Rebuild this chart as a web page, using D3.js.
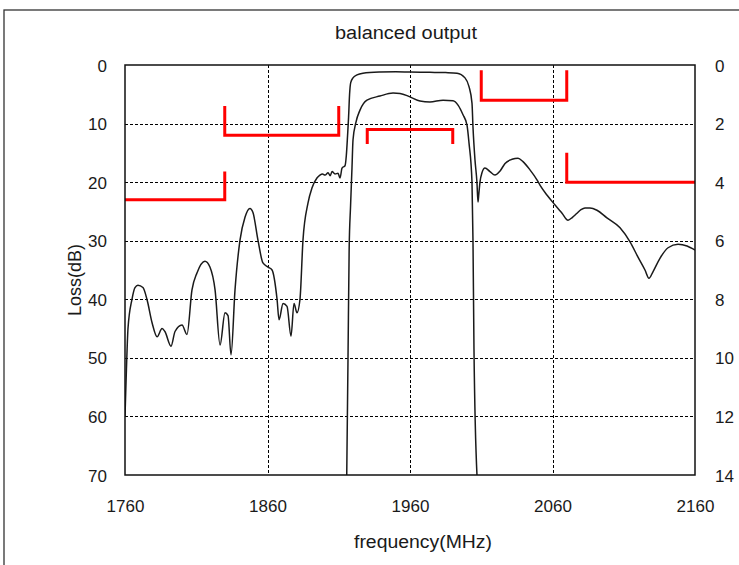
<!DOCTYPE html>
<html>
<head>
<meta charset="utf-8">
<script src="https://cdn.jsdelivr.net/npm/d3@7"></script>
<style>
  html, body { margin: 0; padding: 0; background: #fff; }
  svg { display: block; }
  text { font-family: "Liberation Sans", Arial, sans-serif; fill: #1a1a1a; }
</style>
</head>
<body>
<svg id="chart" width="739" height="565"></svg>
<script>
// ---------------- data ----------------
const title = "balanced output";
const xLabel = "frequency(MHz)";
const yLabel = "Loss(dB)";
const xTicks = [1760, 1860, 1960, 2060, 2160];
const yLeftTicks = [0, 10, 20, 30, 40, 50, 60, 70];
const yRightTicks = [0, 2, 4, 6, 8, 10, 12, 14];

// wide-band response (left axis, dB): [MHz, dB]
const wideFreq = [1760, 1761, 1762.1, 1764.9, 1767, 1769.1, 1772.6, 1775.4, 1779, 1782.5, 1786, 1788, 1792.3, 1795.1, 1800, 1803.5, 1807, 1810.5, 1816.1, 1819.6, 1823.2, 1826.7, 1830.2, 1832.3, 1834.4, 1837.2, 1840.7, 1844.2, 1847.7, 1849.8, 1853.3, 1856.8, 1860.4, 1863.2, 1866.7, 1868.1, 1870.9, 1873.7, 1876.5, 1878.6, 1880.7, 1882.8, 1884.9, 1888.4, 1891.2, 1894.7, 1896.8, 1898.6, 1900.4, 1902.5, 1904, 1905.3, 1907.4, 1909.5, 1910.9, 1912.3, 1914.4, 1915.3, 1916.2, 1916.9, 1917.6, 1918.4, 1920, 1922.8, 1927, 1938.9, 1950, 1960, 1974, 1985, 1993, 1998.6, 2001.4, 2003.5, 2004.2, 2005.6, 2007, 2007.7, 2008.3, 2009.1, 2010.5, 2012.6, 2016.1, 2019.6, 2023.2, 2026.7, 2031.6, 2035.8, 2039.3, 2044.2, 2049.1, 2051.2, 2056.1, 2061.8, 2066.7, 2070.9, 2074, 2077.2, 2080, 2082.8, 2086.3, 2091.2, 2098.2, 2107.4, 2114.4, 2120, 2124.9, 2127.7, 2130.5, 2135.4, 2141.1, 2148.1, 2154.4, 2158.6, 2160];
const wideLoss = [60, 52, 45, 40, 38, 37.6, 38, 40, 44, 46.4, 45, 45.5, 48, 45.5, 44.4, 46, 38.4, 35.5, 33.5, 34.5, 38.4, 47.8, 42.3, 42.8, 49.5, 38.4, 29.9, 26, 24.5, 25.2, 29.9, 33.8, 34.5, 35, 40, 43.5, 40.7, 41.2, 46.3, 40.7, 42.3, 40, 29.9, 23.6, 21, 19.3, 18.8, 18.6, 18.8, 18.4, 18.9, 18.2, 18.6, 18.5, 19.3, 17.6, 17.2, 15.5, 12, 8.9, 5, 3, 2.2, 1.7, 1.4, 1.2, 1.15, 1.2, 1.25, 1.3, 1.4, 2.2, 3.7, 6.5, 10.6, 16.2, 20.1, 23.4, 22, 20, 18.4, 17.6, 18.2, 18.8, 18.1, 16.8, 16.1, 15.9, 16.5, 17.9, 19.6, 20.5, 22.2, 23.9, 25.3, 26.5, 26, 25.3, 24.7, 24.4, 24.4, 24.8, 26.1, 27.8, 30.2, 32.8, 35, 36.4, 35.3, 33, 31.2, 30.6, 30.9, 31.4, 31.6];

// passband response (right axis, dB): [MHz, dB]
const passFreq = [1915.6, 1916.5, 1917.3, 1918.3, 1919.3, 1920, 1922.1, 1924.9, 1929.8, 1938.9, 1948.1, 1953, 1960, 1967, 1974, 1983.2, 1990.2, 1993.7, 1997.2, 2000, 2001.4, 2003.5, 2004.2, 2004.9, 2007];
const passLoss = [14, 10, 6.3, 4.8, 3.5, 2.56, 1.95, 1.54, 1.2, 1.06, 0.96, 0.97, 1.09, 1.23, 1.26, 1.2, 1.22, 1.37, 1.7, 2.05, 2.66, 4.0, 6.0, 9.7, 14];

// specification masks (red)
const maskLeftFreq = [1760, 1830, 1830];          // left axis
const maskLeftLoss = [23, 23, 18.2];
const maskLow2Freq = [1830, 1830, 1910, 1910];    // left axis
const maskLow2Loss = [7, 12, 12, 7];
const maskPassFreq = [1930, 1930, 1990, 1990];    // right axis
const maskPassLoss = [2.7, 2.2, 2.2, 2.7];
const maskHi1Freq = [2010, 2010, 2070, 2070];     // left axis
const maskHi1Loss = [0.9, 6, 6, 0.9];
const maskHi2Freq = [2070, 2070, 2160];           // left axis
const maskHi2Loss = [15, 20, 20];

// ---------------- drawing ----------------
const svg = d3.select("#chart");
const W = 739, H = 565;
const m = {left: 125, right: 44, top: 65, bottom: 90};
const x = d3.scaleLinear().domain([1760, 2160]).range([m.left, W - m.right]);
const yL = d3.scaleLinear().domain([0, 70]).range([m.top, H - m.bottom]);
const yR = d3.scaleLinear().domain([0, 14]).range([m.top, H - m.bottom]);

// outer frame
svg.append("rect").attr("x", 4).attr("y", 10).attr("width", 745).attr("height", 575)
  .attr("fill", "none").attr("stroke", "#333").attr("stroke-width", 1.3);

// title
svg.append("text").attr("x", 406).attr("y", 39).attr("text-anchor", "middle")
  .style("font-size", "18px").attr("textLength", 142).attr("lengthAdjust", "spacingAndGlyphs").text(title);

const clipId = "plotclip";
svg.append("clipPath").attr("id", clipId).append("rect")
  .attr("x", m.left).attr("y", m.top)
  .attr("width", x.range()[1] - m.left).attr("height", yL.range()[1] - m.top);

// grid
const grid = svg.append("g");
grid.selectAll("line.h").data(yLeftTicks.slice(1, -1)).join("line")
  .attr("x1", m.left).attr("x2", x.range()[1])
  .attr("y1", d => Math.round(yL(d)) + 0.5).attr("y2", d => Math.round(yL(d)) + 0.5)
  .attr("stroke", "#000").attr("stroke-width", 1).attr("stroke-dasharray", "3,2");
grid.selectAll("line.v").data(xTicks.slice(1, -1)).join("line")
  .attr("y1", m.top).attr("y2", yL.range()[1])
  .attr("x1", d => Math.round(x(d)) + 0.5).attr("x2", d => Math.round(x(d)) + 0.5)
  .attr("stroke", "#000").attr("stroke-width", 1).attr("stroke-dasharray", "3,2");

// axes (labels only, through d3 axes)
const fs = "17px";
const axB = svg.append("g").attr("transform", `translate(0,${yL.range()[1]})`)
  .call(d3.axisBottom(x).tickValues(xTicks).tickSize(0).tickPadding(25).tickFormat(d3.format("d")));
const axL = svg.append("g").attr("transform", `translate(${m.left},0)`)
  .call(d3.axisLeft(yL).tickValues(yLeftTicks).tickSize(0).tickPadding(18).tickFormat(d3.format("d")));
const axR = svg.append("g").attr("transform", `translate(${x.range()[1]},0)`)
  .call(d3.axisRight(yR).tickValues(yRightTicks).tickSize(0).tickPadding(20).tickFormat(d3.format("d")));
[axB, axL, axR].forEach(a => {
  a.select(".domain").remove();
  a.selectAll("text").style("font-size", fs).style("font-family", '"Liberation Sans", Arial, sans-serif').attr("fill", "#1a1a1a");
});
axL.selectAll("text").attr("dy", "0.36em");
axR.selectAll("text").attr("dy", "0.36em");

// axis titles
svg.append("text").attr("transform", `translate(81,${(m.top + yL.range()[1]) / 2 + 10}) rotate(-90)`)
  .attr("text-anchor", "middle").style("font-size", "18px")
  .attr("textLength", 72).attr("lengthAdjust", "spacingAndGlyphs").text(yLabel);
svg.append("text").attr("x", 423).attr("y", 548).attr("text-anchor", "middle")
  .style("font-size", "18px").attr("textLength", 138).attr("lengthAdjust", "spacingAndGlyphs").text(xLabel);

// curves
const plot = svg.append("g").attr("clip-path", `url(#${clipId})`);
const lineL = d3.line().x(d => x(d[0])).y(d => yL(d[1])).curve(d3.curveMonotoneX);
const lineR = d3.line().x(d => x(d[0])).y(d => yR(d[1])).curve(d3.curveMonotoneX);
const wide = wideFreq.map((f, i) => [f, wideLoss[i]]);
const pass = passFreq.map((f, i) => [f, passLoss[i]]);
plot.append("path").attr("d", lineL(wide)).attr("fill", "none")
  .attr("stroke", "#1a1a1a").attr("stroke-width", 1.5);
plot.append("path").attr("d", lineR(pass)).attr("fill", "none")
  .attr("stroke", "#1a1a1a").attr("stroke-width", 1.5);

// masks
const maskL = d3.line().x(d => x(d[0])).y(d => yL(d[1]));
const maskR = d3.line().x(d => x(d[0])).y(d => yR(d[1]));
const zip = (a, b) => a.map((v, i) => [v, b[i]]);
[[maskLeftFreq, maskLeftLoss, maskL], [maskLow2Freq, maskLow2Loss, maskL],
 [maskPassFreq, maskPassLoss, maskR], [maskHi1Freq, maskHi1Loss, maskL],
 [maskHi2Freq, maskHi2Loss, maskL]].forEach(([f, l, g]) => {
  svg.append("path").attr("d", g(zip(f, l))).attr("fill", "none")
    .attr("stroke", "#ff0000").attr("stroke-width", 3).attr("stroke-linecap", "butt");
});

// plot frame
svg.append("rect").attr("x", m.left).attr("y", m.top)
  .attr("width", x.range()[1] - m.left).attr("height", yL.range()[1] - m.top)
  .attr("fill", "none").attr("stroke", "#111").attr("stroke-width", 1.5);
</script>
</body>
</html>
